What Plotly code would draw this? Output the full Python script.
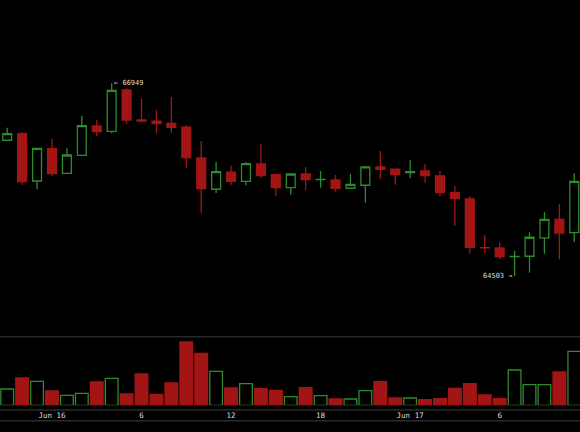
import plotly.graph_objects as go

# hourly BTC candles, Jun 15 21:00 -> Jun 17 11:00 (2024)
times = [
    "2024-06-15 21:00", "2024-06-15 22:00", "2024-06-15 23:00",
    "2024-06-16 00:00", "2024-06-16 01:00", "2024-06-16 02:00", "2024-06-16 03:00",
    "2024-06-16 04:00", "2024-06-16 05:00", "2024-06-16 06:00", "2024-06-16 07:00",
    "2024-06-16 08:00", "2024-06-16 09:00", "2024-06-16 10:00", "2024-06-16 11:00",
    "2024-06-16 12:00", "2024-06-16 13:00", "2024-06-16 14:00", "2024-06-16 15:00",
    "2024-06-16 16:00", "2024-06-16 17:00", "2024-06-16 18:00", "2024-06-16 19:00",
    "2024-06-16 20:00", "2024-06-16 21:00", "2024-06-16 22:00", "2024-06-16 23:00",
    "2024-06-17 00:00", "2024-06-17 01:00", "2024-06-17 02:00", "2024-06-17 03:00",
    "2024-06-17 04:00", "2024-06-17 05:00", "2024-06-17 06:00", "2024-06-17 07:00",
    "2024-06-17 08:00", "2024-06-17 09:00", "2024-06-17 10:00", "2024-06-17 11:00",
]
open_ = [66226, 66309, 65709, 66119, 65807, 66035, 66407, 66340, 66864, 66483,
         66467, 66441, 66391, 66001, 65604, 65820, 65705, 65925, 65789, 65624,
         65798, 65726, 65722, 65617, 65655, 65887, 65858, 65815, 65836, 65773,
         65561, 65481, 64863, 64859, 64749, 64754, 64986, 65223, 65053]
high = [66386, 66327, 66128, 66242, 66124, 66534, 66483, 66949, 66885, 66750,
        66610, 66775, 66420, 66217, 65950, 65903, 65950, 66182, 65795, 65811,
        65887, 65836, 65785, 65802, 65900, 66090, 65862, 65976, 65925, 65840,
        65646, 65515, 65020, 64931, 64825, 65058, 65316, 65414, 65807]
low = [66222, 65658, 65604, 65773, 65803, 66031, 66280, 66315, 66432, 66454,
       66322, 66322, 65878, 65307, 65557, 65655, 65655, 65747, 65515, 65535,
       65595, 65624, 65573, 65612, 65434, 65731, 65662, 65743, 65688, 65519,
       65142, 64787, 64792, 64716, 64503, 64546, 64787, 64716, 64935]
close = [66309, 65700, 66124, 65802, 66039, 66411, 66335, 66860, 66483, 66470,
         66436, 66391, 66005, 65611, 65827, 65705, 65929, 65776, 65624, 65798,
         65726, 65730, 65617, 65667, 65887, 65858, 65789, 65827, 65776, 65561,
         65485, 64868, 64860, 64749, 64752, 64995, 65223, 65049, 65705]
volume = [163, 273, 240, 143, 100, 120, 233, 270, 113, 313,
          110, 223, 633, 520, 340, 173, 216, 166, 150, 86,
          176, 96, 63, 63, 146, 236, 73, 73, 56, 66,
          170, 216, 103, 66, 353, 206, 206, 333, 540]

tick_vals = ["2024-06-16 00:00", "2024-06-16 06:00", "2024-06-16 12:00",
             "2024-06-16 18:00", "2024-06-17 00:00", "2024-06-17 06:00"]
tick_text = ["Jun 16", "6", "12", "18", "Jun 17", "6"]

GREEN = "#2e8b2e"
RED = "#a31515"
TXT = "#dddddd"
LINE = "#2a2a2e"
MONO = "DejaVu Sans Mono"

up = [c >= o for o, c in zip(open_, close)]
vol_fill = ["rgba(0,0,0,0)" if u else RED for u in up]
vol_line = [GREEN if u else RED for u in up]

fig = go.Figure()
fig.add_trace(go.Candlestick(
    x=times, open=open_, high=high, low=low, close=close,
    increasing=dict(line=dict(color=GREEN, width=1.3), fillcolor="rgba(0,0,0,0)"),
    decreasing=dict(line=dict(color=RED, width=1.3), fillcolor=RED),
    whiskerwidth=0, xaxis="x", yaxis="y", hoverinfo="skip",
))
fig.add_trace(go.Bar(
    x=times, y=volume, xaxis="x", yaxis="y2",
    marker=dict(color=vol_fill, line=dict(color=vol_line, width=1.3)),
    hoverinfo="skip",
))

# high / low markers
i_hi = high.index(max(high))
i_lo = low.index(min(low))
fig.add_annotation(x=times[i_hi], y=high[i_hi], text="\u2190 " + str(high[i_hi]),
                   xanchor="left", yanchor="middle", xshift=0, showarrow=False,
                   font=dict(family=MONO, size=7, color=TXT))
fig.add_annotation(x=times[i_lo], y=low[i_lo], text=str(low[i_lo]) + " \u2192",
                   xanchor="right", yanchor="middle", xshift=0, showarrow=False,
                   font=dict(family=MONO, size=7, color=TXT))

for yy in [0.2206, 0.0509, 0.0262]:
    fig.add_shape(type="line", xref="paper", yref="paper", x0=0, x1=1, y0=yy, y1=yy,
                  line=dict(color=LINE, width=1.5), layer="below")

fig.update_layout(
    width=580, height=432,
    margin=dict(l=0, r=0, t=0, b=0),
    paper_bgcolor="black", plot_bgcolor="black",
    showlegend=False, boxgap=0.15, bargap=0.15,
    xaxis=dict(range=["2024-06-15 20:31", "2024-06-17 11:23"], anchor="y2",
               rangeslider=dict(visible=False), showgrid=False, zeroline=False,
               showline=False, tickvals=tick_vals, ticktext=tick_text,
               ticks="outside", ticklen=3, tickcolor="rgba(0,0,0,0)",
               tickfont=dict(family=MONO, size=7.5, color=TXT)),
    yaxis=dict(domain=[0.2206, 1], range=[63733, 68006], showgrid=False,
               zeroline=False, showticklabels=False),
    yaxis2=dict(domain=[0.0618, 0.2206], range=[0, 686], showgrid=False,
                zeroline=False, showticklabels=False),
)

fig.write_html("out.html", config={"displayModeBar": False},
               post_script="document.body.style.margin='0';")
